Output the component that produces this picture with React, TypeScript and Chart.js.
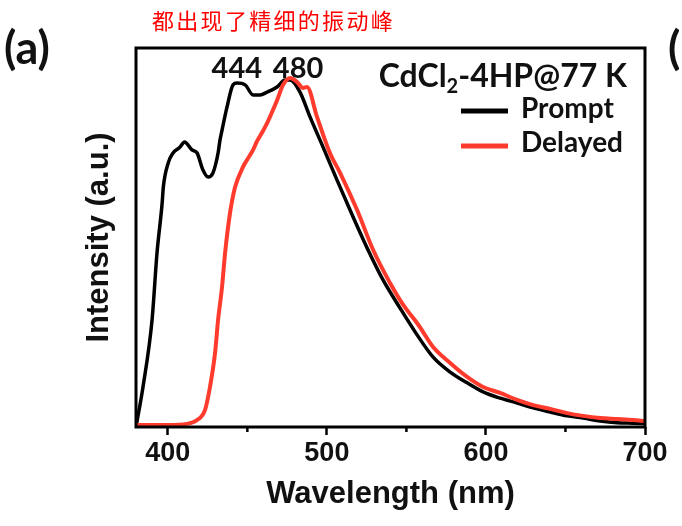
import React, { useEffect, useRef } from 'react';
import { Chart, registerables } from 'chart.js';

Chart.register(...registerables);

// ---- data ----
const promptNm = [380, 384.4, 390.1, 393.2, 396.4, 397.2, 400.3, 403.3, 407.7, 410.5, 415.2, 418.4, 422.1, 425.3, 428.4, 431.6, 432.8, 434.1, 437.2, 441.0, 443.5, 448.6, 453.6, 458.0, 462.4, 468.7, 473.7, 476.9, 483.1, 489.4, 497.6, 506.4, 516.5, 525.3, 535.3, 546.0, 556.7, 566.8, 577.5, 588.2, 598.2, 608.9, 619.6, 629.7, 640.4, 651.1, 661.1, 671.8, 682.5, 692.6, 700];
const promptI = [0.0, 0.115, 0.308, 0.5, 0.642, 0.691, 0.76, 0.788, 0.805, 0.82, 0.797, 0.788, 0.739, 0.719, 0.731, 0.788, 0.825, 0.854, 0.92, 0.984, 0.989, 0.984, 0.955, 0.955, 0.963, 0.978, 0.998, 0.998, 0.963, 0.892, 0.805, 0.71, 0.604, 0.515, 0.423, 0.342, 0.265, 0.201, 0.158, 0.127, 0.101, 0.083, 0.069, 0.055, 0.043, 0.032, 0.026, 0.017, 0.012, 0.011, 0.01];

const delayedNm = [380, 400, 412.1, 418.4, 423.4, 426.5, 429.7, 431.6, 434.1, 436.0, 439.1, 442.3, 447.3, 449.8, 453.6, 456.1, 459.9, 462.4, 468.7, 472.5, 476.9, 481.3, 485.0, 487.5, 493.8, 502.0, 508.3, 519.0, 529.1, 539.7, 546.0, 550.4, 556.7, 560.5, 566.8, 577.5, 588.2, 598.2, 608.9, 619.6, 629.7, 640.4, 651.1, 661.1, 671.8, 682.5, 692.6, 700];
const delayedI = [0.006, 0.006, 0.009, 0.02, 0.049, 0.115, 0.213, 0.308, 0.403, 0.5, 0.615, 0.69, 0.748, 0.768, 0.797, 0.822, 0.852, 0.874, 0.94, 0.984, 1.004, 0.992, 0.975, 0.978, 0.892, 0.787, 0.731, 0.624, 0.509, 0.414, 0.365, 0.336, 0.299, 0.273, 0.23, 0.184, 0.144, 0.115, 0.098, 0.078, 0.063, 0.052, 0.04, 0.032, 0.026, 0.023, 0.02, 0.017];

const xMajorTicks = [400, 500, 600, 700];
const xMinorTicks = [450, 550, 650];
const peakLabels = ['444', '480'];
const seriesNames = ['Prompt', 'Delayed'];
const seriesColors = ['#000000', '#ff3b2e'];
const sampleName = ['CdCl', '2', '-4HP@77 K'];
const panelLabel = '(a)';
const chartTitle = '都出现了精细的振动峰';
const xTitle = 'Wavelength (nm)';
const yTitle = 'Intensity (a.u.)';

const ARIAL = "'Liberation Sans', Arial, sans-serif";
const LATO = "Lato, 'Open Sans', sans-serif";
const CJK = "'Noto Sans CJK SC', sans-serif";

const decorPlugin = {
  id: 'decor',
  afterDraw(chart: any) {
    const { ctx, chartArea: a, scales } = chart;
    const xs = scales.x;
    const ys = scales.y;
    ctx.save();

    // minor ticks
    ctx.strokeStyle = '#000';
    ctx.lineWidth = 2.5;
    xMinorTicks.forEach((v) => {
      const px = xs.getPixelForValue(v);
      ctx.beginPath();
      ctx.moveTo(px, a.bottom);
      ctx.lineTo(px, a.bottom + 5);
      ctx.stroke();
    });

    // frame
    ctx.lineWidth = 3;
    ctx.strokeRect(a.left, a.top, a.right - a.left, a.bottom - a.top);

    // peak labels
    ctx.fillStyle = '#111';
    ctx.font = `bold 29px ${LATO}`;
    ctx.textAlign = 'center';
    ctx.textBaseline = 'alphabetic';
    const shifts = [-1, 3];
    peakLabels.forEach((t, i) => {
      ctx.fillText(t, xs.getPixelForValue(Number(t)) + shifts[i], ys.getPixelForValue(1.0) - 1);
    });

    // sample name with subscript, right aligned
    const bigFont = `bold 32px ${LATO}`;
    const subFont = `bold 20px ${LATO}`;
    ctx.font = bigFont;
    const w0 = ctx.measureText(sampleName[0]).width;
    const w2 = ctx.measureText(sampleName[2]).width;
    ctx.font = subFont;
    const w1 = ctx.measureText(sampleName[1]).width;
    const endX = a.right - 18;
    let sx = endX - (w0 + w1 + w2);
    const base = a.top + 39;
    ctx.textAlign = 'left';
    ctx.font = bigFont;
    ctx.fillText(sampleName[0], sx, base);
    sx += w0;
    ctx.font = subFont;
    ctx.fillText(sampleName[1], sx, base + 6);
    sx += w1;
    ctx.font = bigFont;
    ctx.fillText(sampleName[2], sx, base);

    // legend
    const rows = [
      { line: a.top + 63, text: a.top + 70 },
      { line: a.top + 98, text: a.top + 104 },
    ];
    seriesNames.forEach((name, i) => {
      ctx.strokeStyle = seriesColors[i];
      ctx.lineWidth = 5;
      ctx.beginPath();
      ctx.moveTo(a.right - 184, rows[i].line);
      ctx.lineTo(a.right - 137, rows[i].line);
      ctx.stroke();
      ctx.fillStyle = '#111';
      ctx.font = `bold 28px ${LATO}`;
      ctx.fillText(name, a.right - 124, rows[i].text);
    });

    // panel labels
    ctx.font = `bold 45px ${LATO}`;
    ctx.fillStyle = '#111';
    ctx.textAlign = 'left';
    ctx.fillText(panelLabel, 4, 64);
    ctx.fillText(panelLabel.charAt(0), 668, 64);

    // chinese title
    ctx.fillStyle = '#ff0000';
    ctx.font = `22px ${CJK}`;
    ctx.textBaseline = 'middle';
    Array.from(chartTitle).forEach((ch, i) => {
      ctx.fillText(ch, 152 + i * 24.3, 21);
    });

    ctx.restore();
  },
};

export default function App() {
  const ref = useRef<HTMLCanvasElement | null>(null);

  useEffect(() => {
    if (!ref.current) return;
    const chart = new Chart(ref.current, {
      type: 'line',
      data: {
        datasets: [
          {
            label: seriesNames[0],
            data: promptNm.map((x, i) => ({ x, y: promptI[i] })),
            borderColor: seriesColors[0],
            borderWidth: 3.5,
            pointRadius: 0,
            cubicInterpolationMode: 'monotone',
            fill: false,
            order: 1,
          },
          {
            label: seriesNames[1],
            data: delayedNm.map((x, i) => ({ x, y: delayedI[i] })),
            borderColor: seriesColors[1],
            borderWidth: 4,
            pointRadius: 0,
            cubicInterpolationMode: 'monotone',
            fill: false,
            order: 0,
          },
        ],
      },
      options: {
        responsive: true,
        maintainAspectRatio: false,
        animation: false,
        layout: { padding: { top: 48, right: 37, left: 0, bottom: 0 } },
        plugins: { legend: { display: false }, tooltip: { enabled: false } },
        scales: {
          x: {
            type: 'linear',
            min: 380,
            max: 700,
            afterBuildTicks: (s: any) => {
              s.ticks = xMajorTicks.map((v) => ({ value: v }));
            },
            afterFit: (s: any) => {
              s.height = 99;
            },
            ticks: {
              autoSkip: false,
              maxRotation: 0,
              padding: 2,
              color: '#111',
              font: { family: ARIAL, size: 27, weight: 'bold' },
            },
            grid: {
              display: true,
              drawOnChartArea: false,
              drawTicks: true,
              tickLength: 8,
              tickWidth: 2.5,
              tickColor: '#000',
            },
            border: { display: false },
            title: {
              display: true,
              text: xTitle,
              color: '#111',
              font: { family: ARIAL, size: 31, weight: 'bold' },
              padding: { top: 0, bottom: 13 },
            },
          },
          y: {
            type: 'linear',
            min: 0,
            max: 1.09,
            afterFit: (s: any) => {
              s.width = 136;
            },
            ticks: { display: false },
            grid: { display: false },
            border: { display: false },
            title: {
              display: true,
              text: yTitle,
              color: '#111',
              font: { family: ARIAL, size: 31, weight: 'bold' },
              padding: { top: 81, bottom: 0 },
            },
          },
        },
      },
      plugins: [decorPlugin],
    } as any);
    return () => chart.destroy();
  }, []);

  return (
    <div style={{ position: 'fixed', left: 0, top: 0, width: 682, height: 526, background: '#fff' }}>
      <canvas ref={ref} />
    </div>
  );
}
